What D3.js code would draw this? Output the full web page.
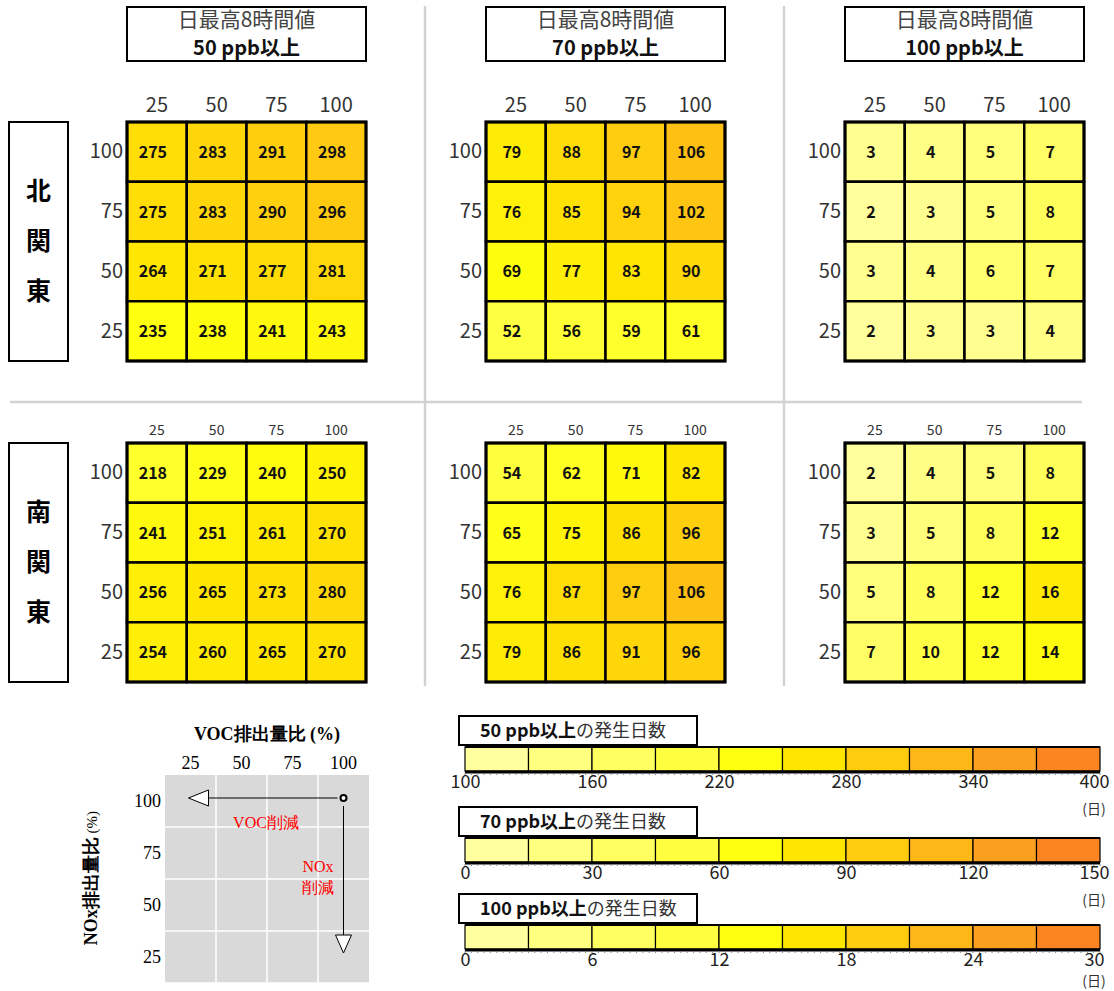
<!DOCTYPE html>
<html><head><meta charset="utf-8">
<script src="https://cdn.jsdelivr.net/npm/d3@7"></script>
<style>
html,body{margin:0;padding:0;background:#fff;}
svg{display:block;font-family:"Noto Sans CJK JP","Noto Sans",sans-serif;}
</style></head>
<body><svg id="c" width="1114" height="991"></svg>
<script>
// ---- data ----
const vocLevels = [25, 50, 75, 100];
const noxLevels = [100, 75, 50, 25];
const regionNames = ["北関東", "南関東"];
const thresholdLabels = ["50 ppb以上", "70 ppb以上", "100 ppb以上"];
const headerLine1 = "日最高8時間値";

const north50 = [[275,283,291,298],[275,283,290,296],[264,271,277,281],[235,238,241,243]];
const north70 = [[79,88,97,106],[76,85,94,102],[69,77,83,90],[52,56,59,61]];
const north100 = [[3,4,5,7],[2,3,5,8],[3,4,6,7],[2,3,3,4]];
const south50 = [[218,229,240,250],[241,251,261,270],[256,265,273,280],[254,260,265,270]];
const south70 = [[54,62,71,82],[65,75,86,96],[76,87,97,106],[79,86,91,96]];
const south100 = [[2,4,5,8],[3,5,8,12],[5,8,12,16],[7,10,12,14]];

const binColors = ["#FFFFA0","#FFFF80","#FFFF60","#FFFF40","#FFFF10","#FFE600","#FFCC10","#FDB716","#FBA01E","#FC8522"];
const domain50 = [100, 400];
const domain70 = [0, 150];
const domain100 = [0, 30];
const ticks50 = [100,160,220,280,340,400];
const ticks70 = [0,30,60,90,120,150];
const ticks100 = [0,6,12,18,24,30];
const colorbarLabels = ["50 ppb以上", "70 ppb以上", "100 ppb以上"];
const colorbarSuffix = "の発生日数";
const unitLabel = "(日)";

const svg = d3.select("#c");

function makeColor(dom){
  const w = (dom[1]-dom[0])/10;
  const centers = d3.range(10).map(i => dom[0] + w*(i+0.5));
  return d3.scaleLinear().domain(centers).range(binColors).clamp(true);
}
const colorScales = [makeColor(domain50), makeColor(domain70), makeColor(domain100)];

// ---- separators ----
const sep = svg.append("g").attr("stroke","#d2d2d2").attr("stroke-width",2.5);
sep.append("line").attr("x1",425).attr("x2",425).attr("y1",6).attr("y2",686);
sep.append("line").attr("x1",784).attr("x2",784).attr("y1",6).attr("y2",686);
sep.append("line").attr("x1",10).attr("x2",1082).attr("y1",402).attr("y2",402);

// ---- panels ----
const panelX = [127, 486, 845];
const panelY = [122, 443];
const gridSize = 239;
const panelData = [[north50, north70, north100],[south50, south70, south100]];

thresholdLabels.forEach((lab, j) => {
  const g = svg.append("g");
  g.append("rect").attr("x", panelX[j]).attr("y", 7).attr("width", gridSize).attr("height", 54)
    .attr("fill","#fff").attr("stroke","#000").attr("stroke-width",2);
  g.append("text").attr("x", panelX[j]+gridSize/2).attr("y", 27).attr("text-anchor","middle")
    .attr("font-size",21).attr("fill","#444").text(headerLine1);
  g.append("text").attr("x", panelX[j]+gridSize/2).attr("y", 55).attr("text-anchor","middle")
    .attr("font-size",20).attr("font-weight","bold").attr("fill","#111").text(lab);
});

regionNames.forEach((name, i) => {
  const y0 = panelY[i];
  const rg = svg.append("g");
  rg.append("rect").attr("x", 9).attr("y", y0).attr("width", 59).attr("height", gridSize)
    .attr("fill","#fff").attr("stroke","#000").attr("stroke-width",2);
  Array.from(name).forEach((ch, k) => {
    rg.append("text").attr("x", 38.5).attr("y", y0 + 78 + k*50).attr("text-anchor","middle")
      .attr("font-size",25).attr("font-weight","bold").text(ch);
  });

  panelData[i].forEach((mat, j) => {
    const x0 = panelX[j];
    const x = d3.scaleBand().domain(vocLevels).range([x0, x0+gridSize]);
    const y = d3.scaleBand().domain(noxLevels).range([y0, y0+gridSize]);
    const col = colorScales[j];
    const g = svg.append("g");
    const cells = [];
    noxLevels.forEach((n, r) => vocLevels.forEach((v, c) => cells.push({n, v, val: mat[r][c]})));
    g.selectAll("rect.cell").data(cells).join("rect").attr("class","cell")
      .attr("x", d => x(d.v)).attr("y", d => y(d.n))
      .attr("width", x.bandwidth()).attr("height", y.bandwidth())
      .attr("fill", d => col(d.val)).attr("stroke","#000").attr("stroke-width",2.5);
    g.append("rect").attr("x", x0).attr("y", y0).attr("width", gridSize).attr("height", gridSize)
      .attr("fill","none").attr("stroke","#000").attr("stroke-width",3);
    g.selectAll("text.val").data(cells).join("text").attr("class","val")
      .attr("x", d => x(d.v) + x.bandwidth()/2 - 4).attr("y", d => y(d.n) + y.bandwidth()/2 + 6)
      .attr("text-anchor","middle").attr("font-size",16).attr("font-weight","bold").attr("fill","#111")
      .text(d => d.val);

    const topFont = i === 0 ? 20 : 14;
    const ax = svg.append("g").attr("transform", `translate(0,${y0 - (i===0 ? 10 : 8)})`)
      .call(d3.axisTop(x).tickSize(0).tickPadding(0));
    ax.select(".domain").remove();
    ax.selectAll("text").attr("font-size", topFont).attr("fill","#333")
      .attr("font-family",'"Noto Sans CJK JP",sans-serif');
    const ay = svg.append("g").attr("transform", `translate(${x0 - 4},0)`)
      .call(d3.axisLeft(y).tickSize(0).tickPadding(0));
    ay.select(".domain").remove();
    ay.selectAll("text").attr("font-size", 20).attr("fill","#333")
      .attr("font-family",'"Noto Sans CJK JP",sans-serif');
  });
});

// ---- legend diagram (bottom-left) ----
const lx = d3.scaleBand().domain(vocLevels).range([165, 369]);
const ly = d3.scaleBand().domain(noxLevels).range([775, 983]);
const lg = svg.append("g").attr("font-family",'"Liberation Serif","Times New Roman",serif');
lg.append("rect").attr("x",165).attr("y",775).attr("width",204).attr("height",208).attr("fill","#d9d9d9");
lg.selectAll("line.vg").data(vocLevels.slice(1)).join("line").attr("class","vg")
  .attr("x1", d => lx(d)).attr("x2", d => lx(d)).attr("y1",775).attr("y2",983)
  .attr("stroke","#fff").attr("stroke-width",1.5);
lg.selectAll("line.hg").data(noxLevels.slice(1)).join("line").attr("class","hg")
  .attr("y1", d => ly(d)).attr("y2", d => ly(d)).attr("x1",165).attr("x2",369)
  .attr("stroke","#fff").attr("stroke-width",1.5);
lg.append("line").attr("x1",165).attr("x2",369).attr("y1",983).attr("y2",983).attr("stroke","#fff").attr("stroke-width",1.5);
lg.append("text").attr("x",267).attr("y",740).attr("text-anchor","middle").attr("font-size",18)
  .attr("font-weight","bold").text("VOC排出量比 (%)");
const lax = lg.append("g").attr("transform","translate(0,769)").call(d3.axisTop(lx).tickSize(0).tickPadding(0));
lax.select(".domain").remove();
lax.selectAll("text").attr("font-size",18).attr("font-family",'"Liberation Serif",serif').attr("fill","#000");
const lay = lg.append("g").attr("transform","translate(161,0)").call(d3.axisLeft(ly).tickSize(0).tickPadding(0));
lay.select(".domain").remove();
lay.selectAll("text").attr("font-size",18).attr("font-family",'"Liberation Serif",serif').attr("fill","#000");
const yt = lg.append("text").attr("transform","translate(97,878) rotate(-90)").attr("text-anchor","middle").attr("font-size",18);
yt.append("tspan").attr("font-weight","bold").text("NOx排出量比");
yt.append("tspan").attr("font-size",15).text(" (%)");

const cx = lx(100) + lx.bandwidth()/2, cy = ly(100) + ly.bandwidth()/2 - 3;
const leftX = lx(25) + lx.bandwidth()/2 - 2;
const bottomY = ly(25) + ly.bandwidth()/2 - 4;
lg.append("line").attr("x1", cx-6).attr("x2", leftX+20).attr("y1", cy).attr("y2", cy).attr("stroke","#000").attr("stroke-width",1);
lg.append("path").attr("d", `M${leftX},${cy} L${leftX+20},${cy-8} L${leftX+20},${cy+8} Z`).attr("fill","#fff").attr("stroke","#000").attr("stroke-width",1);
lg.append("line").attr("x1", cx).attr("x2", cx).attr("y1", cy+8).attr("y2", bottomY-18).attr("stroke","#000").attr("stroke-width",1);
lg.append("path").attr("d", `M${cx},${bottomY} L${cx-8},${bottomY-18} L${cx+8},${bottomY-18} Z`).attr("fill","#fff").attr("stroke","#000").attr("stroke-width",1);
lg.append("circle").attr("cx", cx).attr("cy", cy).attr("r",3).attr("fill","#fff").attr("stroke","#000").attr("stroke-width",2);
lg.append("text").attr("x",266).attr("y",828).attr("text-anchor","middle").attr("font-size",16).attr("fill","#f00").text("VOC削減");
lg.append("text").attr("x",318).attr("y",872).attr("text-anchor","middle").attr("font-size",16).attr("fill","#f00").text("NOx");
lg.append("text").attr("x",318).attr("y",893).attr("text-anchor","middle").attr("font-size",16).attr("fill","#f00").text("削減");

// ---- colour bars ----
const cbDomains = [domain50, domain70, domain100];
const cbTicks = [ticks50, ticks70, ticks100];
const cbTop = [747, 838, 925];
cbDomains.forEach((dom, k) => {
  const x = d3.scaleLinear().domain(dom).range([465, 1100]);
  const y0 = cbTop[k];
  const h = 24;
  const g = svg.append("g");
  const w = (dom[1]-dom[0])/10;
  const bins = d3.range(10).map(i => ({a: dom[0]+w*i, b: dom[0]+w*(i+1), c: binColors[i]}));
  g.selectAll("rect.bin").data(bins).join("rect").attr("class","bin")
    .attr("x", d => x(d.a)).attr("y", y0).attr("width", d => x(d.b)-x(d.a)).attr("height", h)
    .attr("fill", d => d.c).attr("stroke","#000").attr("stroke-width",1.2);
  g.append("line").attr("x1",465).attr("x2",1100).attr("y1",y0).attr("y2",y0).attr("stroke","#000").attr("stroke-width",2);
  g.append("line").attr("x1",465).attr("x2",1100).attr("y1",y0+h+1).attr("y2",y0+h+1).attr("stroke","#000").attr("stroke-width",3);
  g.selectAll("line.mt").data(d3.range(0, 101)).join("line").attr("class","mt")
    .attr("x1", d => x(dom[0] + (dom[1]-dom[0])*d/100)).attr("x2", d => x(dom[0] + (dom[1]-dom[0])*d/100))
    .attr("y1", y0+h+2).attr("y2", y0+h+4).attr("stroke","#888").attr("stroke-width",1);
  const ax = g.append("g").attr("transform",`translate(0,${y0+h+3})`)
    .call(d3.axisBottom(x).tickValues(cbTicks[k]).tickSize(0).tickPadding(1));
  ax.select(".domain").remove();
  ax.selectAll("text").attr("font-size",18).attr("fill","#222").attr("font-family",'"Noto Sans CJK JP",sans-serif')
    .attr("dx", (d, i, n) => i === n.length - 1 ? -6 : 0);
  g.append("text").attr("x",1094).attr("y", Math.min(y0+h+43, 986)).attr("text-anchor","middle").attr("font-size",14).attr("fill","#333").text(unitLabel);
  g.append("rect").attr("x",459).attr("y", y0-31).attr("width",238).attr("height",29)
    .attr("fill","#fff").attr("stroke","#000").attr("stroke-width",2);
  const t = g.append("text").attr("x",480).attr("y", y0-10).attr("font-size",18);
  t.append("tspan").attr("font-weight","bold").attr("fill","#111").text(colorbarLabels[k]);
  t.append("tspan").attr("fill","#333").text(colorbarSuffix);
});
</script></body></html>
